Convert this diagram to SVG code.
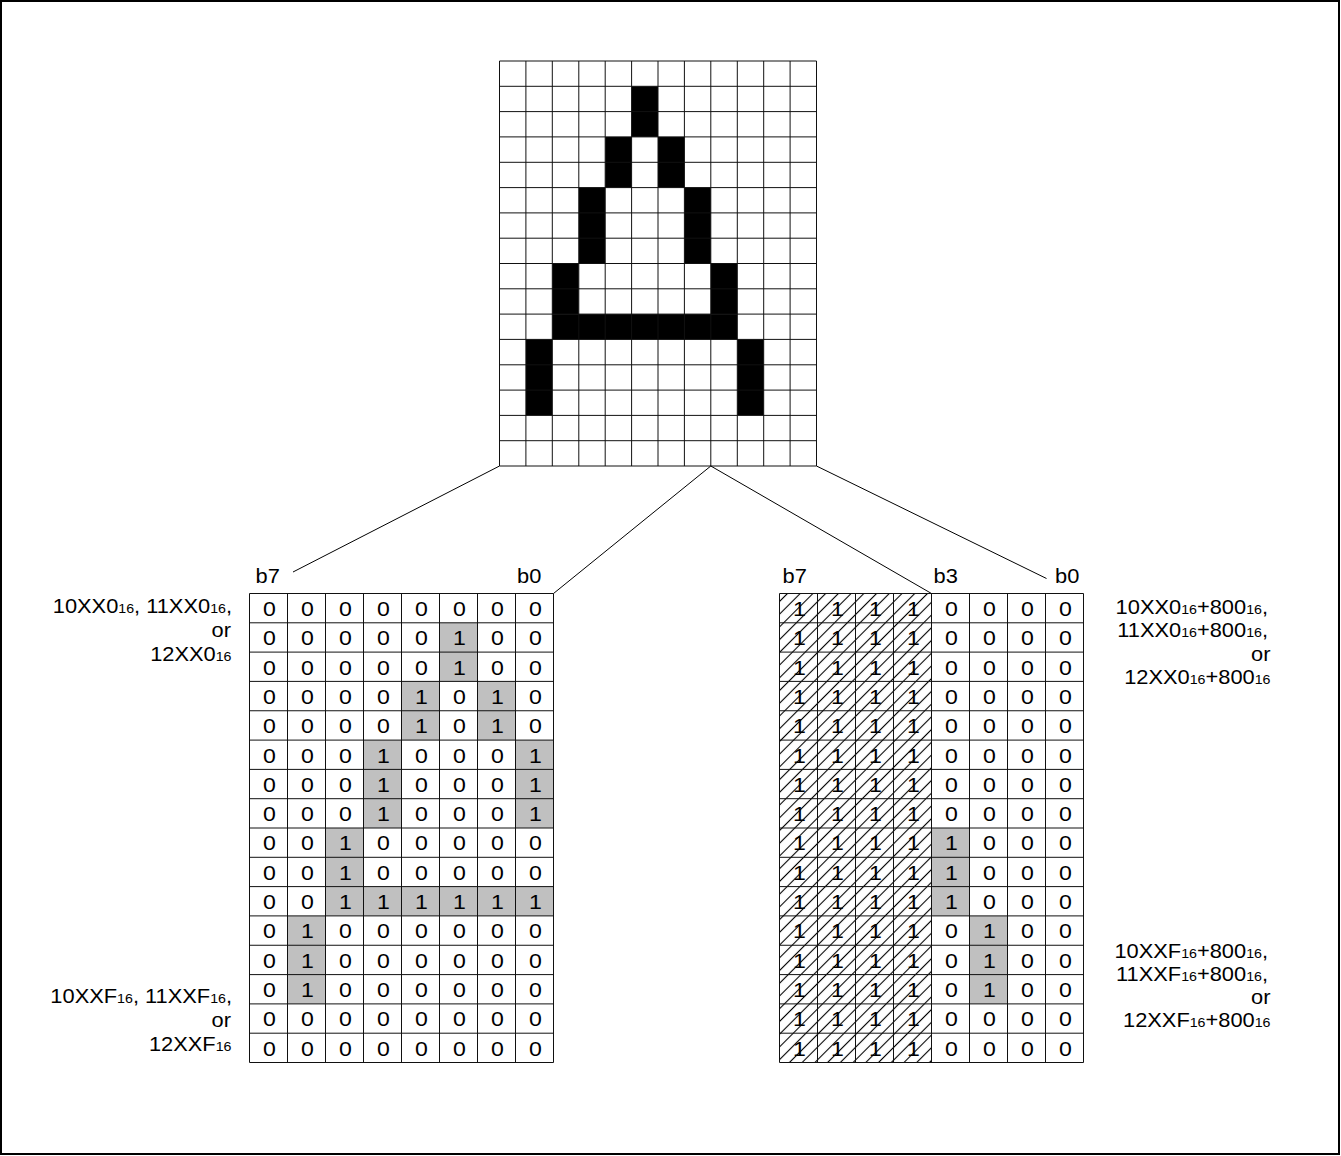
<svg xmlns="http://www.w3.org/2000/svg" width="1341" height="1156" viewBox="0 0 1341 1156">
<style>
text{font-family:"Liberation Sans",Arial,sans-serif;fill:#000}
.lbl{font-size:19.5px}
.sub{font-size:12.7px}
.cell{font-size:21px;text-anchor:middle}
.grid{fill:none;stroke:#111;stroke-width:1}
.conn{fill:none;stroke:#000;stroke-width:1}
.on{fill:#c0c0c0}
.blk{fill:#000}
</style>
<defs>
<pattern id="hatch" patternUnits="userSpaceOnUse" width="9" height="9" patternTransform="rotate(45)">
<line x1="4.5" y1="0" x2="4.5" y2="9" stroke="#000" stroke-width="1.1"/>
</pattern>
</defs>
<rect x="0" y="0" width="1341" height="1156" fill="#fff"/>
<rect x="1" y="1" width="1338" height="1153" fill="none" stroke="#000" stroke-width="2"/>

<g id="font-grid">
<rect x="631.6" y="86.3" width="26.4" height="50.6" class="blk"/>
<rect x="605.2" y="136.9" width="26.4" height="50.7" class="blk"/>
<rect x="658.0" y="136.9" width="26.4" height="50.7" class="blk"/>
<rect x="578.8" y="187.6" width="26.4" height="75.9" class="blk"/>
<rect x="684.4" y="187.6" width="26.4" height="75.9" class="blk"/>
<rect x="552.3" y="263.5" width="26.4" height="50.6" class="blk"/>
<rect x="710.8" y="263.5" width="26.4" height="50.6" class="blk"/>
<rect x="552.3" y="314.1" width="184.9" height="25.3" class="blk"/>
<rect x="525.9" y="339.4" width="26.4" height="75.9" class="blk"/>
<rect x="737.3" y="339.4" width="26.4" height="75.9" class="blk"/>
<path class="grid" d="M499.5,61V466M525.9,61V466M552.3,61V466M578.8,61V466M605.2,61V466M631.6,61V466M658,61V466M684.4,61V466M710.8,61V466M737.3,61V466M763.7,61V466M790.1,61V466M816.5,61V466
M499.5,61H816.5M499.5,86.3H816.5M499.5,111.6H816.5M499.5,136.9H816.5M499.5,162.3H816.5M499.5,187.6H816.5M499.5,212.9H816.5M499.5,238.2H816.5M499.5,263.5H816.5M499.5,288.8H816.5M499.5,314.1H816.5M499.5,339.4H816.5M499.5,364.8H816.5M499.5,390.1H816.5M499.5,415.4H816.5M499.5,440.7H816.5M499.5,466H816.5"/>
</g>

<g id="connectors">
<path class="conn" d="M499.5,466L293,572"/>
<path class="conn" d="M710.8,466L553.5,593.5"/>
<path class="conn" d="M710.8,466L931.5,593.5"/>
<path class="conn" d="M816.5,466L1046.5,578.5"/>
</g>

<g id="left-table">
<rect x="439.5" y="622.8" width="38" height="58.6" class="on"/>
<rect x="401.5" y="681.4" width="38" height="58.7" class="on"/>
<rect x="477.5" y="681.4" width="38" height="58.7" class="on"/>
<rect x="363.5" y="740.1" width="38" height="87.9" class="on"/>
<rect x="515.5" y="740.1" width="38" height="87.9" class="on"/>
<rect x="325.5" y="828" width="38" height="58.6" class="on"/>
<rect x="325.5" y="886.6" width="228" height="29.3" class="on"/>
<rect x="287.5" y="915.9" width="38" height="88" class="on"/>
<g class="cell" transform="translate(249.5,593.5) scale(1.1,1)">
<text y="22.5" x="18.2 52.7 87.3 121.8 156.4 190.9 225.5 260">00000000</text>
<text y="51.8" x="18.2 52.7 87.3 121.8 156.4 190.9 225.5 260">00000100</text>
<text y="81.1" x="18.2 52.7 87.3 121.8 156.4 190.9 225.5 260">00000100</text>
<text y="110.4" x="18.2 52.7 87.3 121.8 156.4 190.9 225.5 260">00001010</text>
<text y="139.75" x="18.2 52.7 87.3 121.8 156.4 190.9 225.5 260">00001010</text>
<text y="169.1" x="18.2 52.7 87.3 121.8 156.4 190.9 225.5 260">00010001</text>
<text y="198.4" x="18.2 52.7 87.3 121.8 156.4 190.9 225.5 260">00010001</text>
<text y="227.7" x="18.2 52.7 87.3 121.8 156.4 190.9 225.5 260">00010001</text>
<text y="257" x="18.2 52.7 87.3 121.8 156.4 190.9 225.5 260">00100000</text>
<text y="286.3" x="18.2 52.7 87.3 121.8 156.4 190.9 225.5 260">00100000</text>
<text y="315.6" x="18.2 52.7 87.3 121.8 156.4 190.9 225.5 260">00111111</text>
<text y="344.9" x="18.2 52.7 87.3 121.8 156.4 190.9 225.5 260">01000000</text>
<text y="374.25" x="18.2 52.7 87.3 121.8 156.4 190.9 225.5 260">01000000</text>
<text y="403.6" x="18.2 52.7 87.3 121.8 156.4 190.9 225.5 260">01000000</text>
<text y="432.9" x="18.2 52.7 87.3 121.8 156.4 190.9 225.5 260">00000000</text>
<text y="462.2" x="18.2 52.7 87.3 121.8 156.4 190.9 225.5 260">00000000</text>
</g>
<path class="grid" d="M249.5,593.5V1062.5M287.5,593.5V1062.5M325.5,593.5V1062.5M363.5,593.5V1062.5M401.5,593.5V1062.5M439.5,593.5V1062.5M477.5,593.5V1062.5M515.5,593.5V1062.5M553.5,593.5V1062.5
M249.5,593.5H553.5M249.5,622.8H553.5M249.5,652.1H553.5M249.5,681.4H553.5M249.5,710.75H553.5M249.5,740.1H553.5M249.5,769.4H553.5M249.5,798.7H553.5M249.5,828H553.5M249.5,857.3H553.5M249.5,886.6H553.5M249.5,915.9H553.5M249.5,945.25H553.5M249.5,974.6H553.5M249.5,1003.9H553.5M249.5,1033.2H553.5M249.5,1062.5H553.5"/>
<text class="lbl" transform="translate(255.5,583) scale(1.12,1)">b7</text>
<text class="lbl" transform="translate(517,583) scale(1.12,1)">b0</text>
</g>

<g id="right-table">
<rect x="931.5" y="828" width="38" height="87.9" class="on"/>
<rect x="969.5" y="915.9" width="38" height="88" class="on"/>
<g class="cell" transform="translate(779.5,593.5) scale(1.1,1)">
<text y="22.5" x="18.2 52.7 87.3 121.8 156.4 190.9 225.5 260">11110000</text>
<text y="51.8" x="18.2 52.7 87.3 121.8 156.4 190.9 225.5 260">11110000</text>
<text y="81.1" x="18.2 52.7 87.3 121.8 156.4 190.9 225.5 260">11110000</text>
<text y="110.4" x="18.2 52.7 87.3 121.8 156.4 190.9 225.5 260">11110000</text>
<text y="139.75" x="18.2 52.7 87.3 121.8 156.4 190.9 225.5 260">11110000</text>
<text y="169.1" x="18.2 52.7 87.3 121.8 156.4 190.9 225.5 260">11110000</text>
<text y="198.4" x="18.2 52.7 87.3 121.8 156.4 190.9 225.5 260">11110000</text>
<text y="227.7" x="18.2 52.7 87.3 121.8 156.4 190.9 225.5 260">11110000</text>
<text y="257" x="18.2 52.7 87.3 121.8 156.4 190.9 225.5 260">11111000</text>
<text y="286.3" x="18.2 52.7 87.3 121.8 156.4 190.9 225.5 260">11111000</text>
<text y="315.6" x="18.2 52.7 87.3 121.8 156.4 190.9 225.5 260">11111000</text>
<text y="344.9" x="18.2 52.7 87.3 121.8 156.4 190.9 225.5 260">11110100</text>
<text y="374.25" x="18.2 52.7 87.3 121.8 156.4 190.9 225.5 260">11110100</text>
<text y="403.6" x="18.2 52.7 87.3 121.8 156.4 190.9 225.5 260">11110100</text>
<text y="432.9" x="18.2 52.7 87.3 121.8 156.4 190.9 225.5 260">11110000</text>
<text y="462.2" x="18.2 52.7 87.3 121.8 156.4 190.9 225.5 260">11110000</text>
</g>
<rect x="779.5" y="593.5" width="152" height="469" fill="url(#hatch)"/>
<path class="grid" d="M779.5,593.5V1062.5M817.5,593.5V1062.5M855.5,593.5V1062.5M893.5,593.5V1062.5M931.5,593.5V1062.5M969.5,593.5V1062.5M1007.5,593.5V1062.5M1045.5,593.5V1062.5M1083.5,593.5V1062.5
M779.5,593.5H1083.5M779.5,622.8H1083.5M779.5,652.1H1083.5M779.5,681.4H1083.5M779.5,710.75H1083.5M779.5,740.1H1083.5M779.5,769.4H1083.5M779.5,798.7H1083.5M779.5,828H1083.5M779.5,857.3H1083.5M779.5,886.6H1083.5M779.5,915.9H1083.5M779.5,945.25H1083.5M779.5,974.6H1083.5M779.5,1003.9H1083.5M779.5,1033.2H1083.5M779.5,1062.5H1083.5"/>
<text class="lbl" transform="translate(782.5,583) scale(1.12,1)">b7</text>
<text class="lbl" transform="translate(933.5,583) scale(1.12,1)">b3</text>
<text class="lbl" transform="translate(1055,583) scale(1.12,1)">b0</text>
</g>

<g id="label-left-top" class="lbl" text-anchor="end">
<text transform="translate(232,613) scale(1.12,1)">10XX0<tspan class="sub">16</tspan>, 11XX0<tspan class="sub">16</tspan>,</text>
<text transform="translate(231,637) scale(1.12,1)">or</text>
<text transform="translate(231.5,661) scale(1.12,1)">12XX0<tspan class="sub">16</tspan></text>
</g>
<g id="label-left-bottom" class="lbl" text-anchor="end">
<text transform="translate(232,1003) scale(1.12,1)">10XXF<tspan class="sub">16</tspan>, 11XXF<tspan class="sub">16</tspan>,</text>
<text transform="translate(231,1027) scale(1.12,1)">or</text>
<text transform="translate(231.5,1051) scale(1.12,1)">12XXF<tspan class="sub">16</tspan></text>
</g>
<g id="label-right-top" class="lbl" text-anchor="end">
<text transform="translate(1268,614) scale(1.12,1)">10XX0<tspan class="sub">16</tspan>+800<tspan class="sub">16</tspan>,</text>
<text transform="translate(1268,637) scale(1.12,1)">11XX0<tspan class="sub">16</tspan>+800<tspan class="sub">16</tspan>,</text>
<text transform="translate(1270.5,661) scale(1.12,1)">or</text>
<text transform="translate(1270.5,684) scale(1.12,1)">12XX0<tspan class="sub">16</tspan>+800<tspan class="sub">16</tspan></text>
</g>
<g id="label-right-bottom" class="lbl" text-anchor="end">
<text transform="translate(1268,958) scale(1.12,1)">10XXF<tspan class="sub">16</tspan>+800<tspan class="sub">16</tspan>,</text>
<text transform="translate(1268,981) scale(1.12,1)">11XXF<tspan class="sub">16</tspan>+800<tspan class="sub">16</tspan>,</text>
<text transform="translate(1270.5,1004) scale(1.12,1)">or</text>
<text transform="translate(1270.5,1027) scale(1.12,1)">12XXF<tspan class="sub">16</tspan>+800<tspan class="sub">16</tspan></text>
</g>
</svg>
